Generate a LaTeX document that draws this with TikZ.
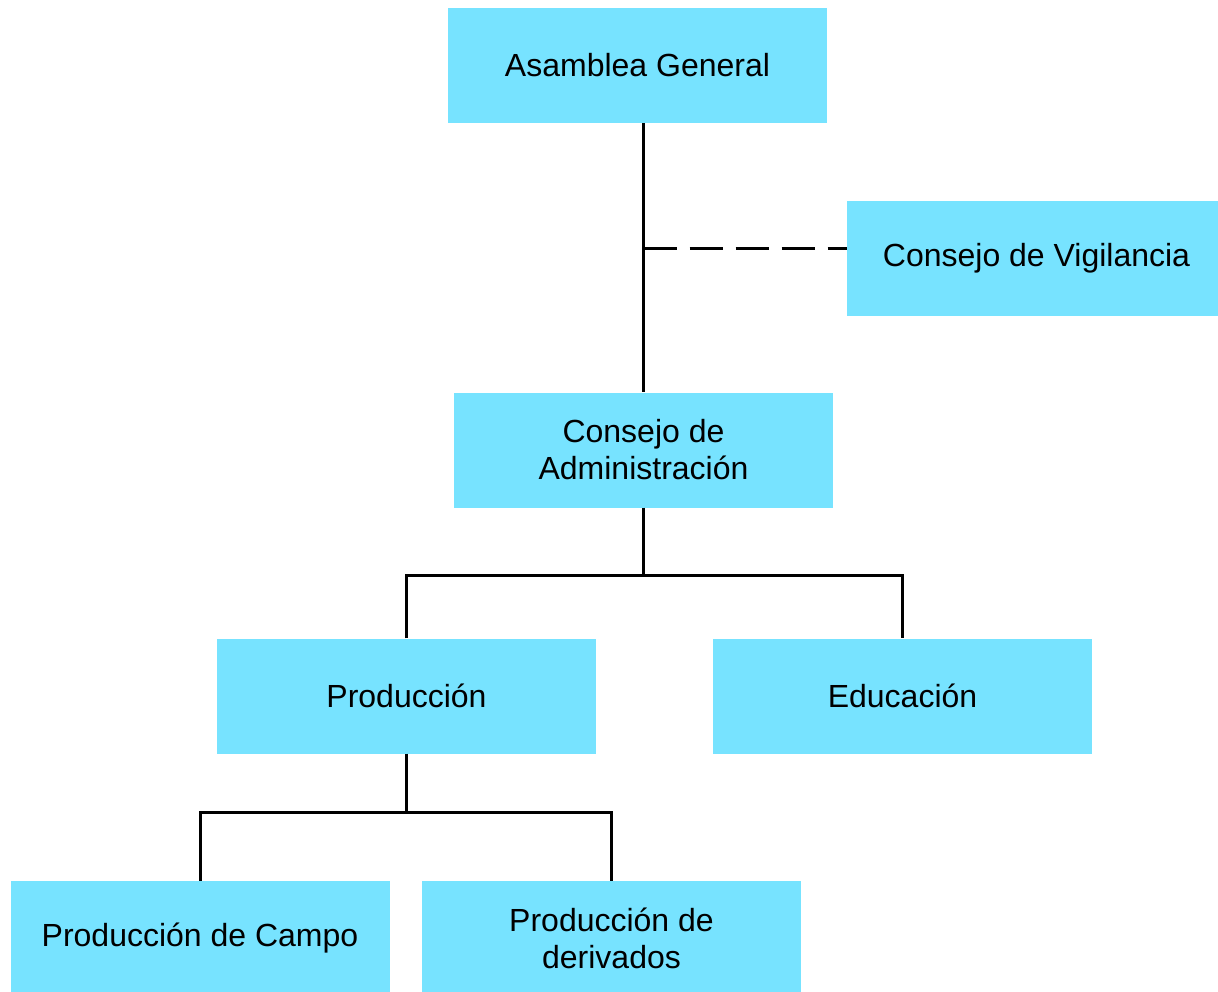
\documentclass[tikz,border=0pt]{standalone}
\usepackage{fontspec}
\setmainfont{Liberation Sans}
\usetikzlibrary{positioning}

\definecolor{boxcyan}{HTML}{77E3FF}

\begin{document}
\begin{tikzpicture}[x=1pt,y=-1pt,
    box/.style={fill=boxcyan,minimum width=379pt,minimum height=115pt,
      inner sep=0pt,align=center,font=\fontsize{32}{37}\selectfont},
    link/.style={line width=3pt}]
  \useasboundingbox (0,0) rectangle (1218,992);

  \node[box] (asamblea)   at (637.5,65.5)  {Asamblea General};
  \node[box] (vigilancia) at (1036.5,258.5) {Consejo de Vigilancia};
  \node[box] (admin)      at (643.5,450)   {Consejo de\\Administración};
  \node[box] (produccion) at (406.5,696)   {Producción};
  \node[box] (educacion)  at (902.5,696)   {Educación};
  \node[box] (campo)      at (200,938.5)   {Producción de Campo};
  \node[box] (derivados)  at (611.5,938.5) {Producción de\\derivados};

  \coordinate (vigin) at (847,249);
  \coordinate (busA)  at (643.5,575);
  \coordinate (busP)  at (406.5,812);

  \draw[link] (asamblea.south -| admin.north) -- (admin.north);
  \draw[link, dash pattern=on 33pt off 13pt] (vigin -| admin.north) -- (vigin);
  \draw[link] (admin.south) -- (busA);
  \draw[link] (produccion.north) |- (busA) -| (educacion.north);
  \draw[link] (produccion.south) -- (busP);
  \draw[link] (campo.north) |- (busP) -| (derivados.north);
\end{tikzpicture}
\end{document}
